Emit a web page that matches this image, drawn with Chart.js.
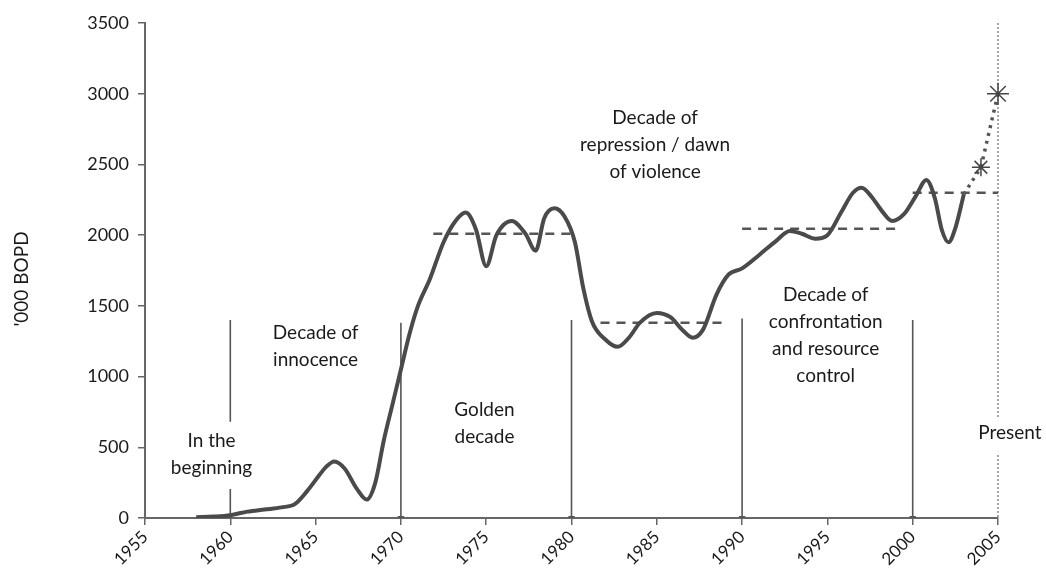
<!DOCTYPE html>
<html>
<head>
<meta charset="utf-8">
<script src="https://cdn.jsdelivr.net/npm/chart.js@4.4.1/dist/chart.umd.min.js"></script>
<style>
  html, body { margin: 0; padding: 0; background: #fff; }
  #wrap { width: 1046px; height: 582px; }
</style>
</head>
<body>
<div id="wrap"><canvas id="oilChart" width="1046" height="582"></canvas></div>
<script>
// Production curve ('000 barrels of oil per day)
const years = [1958, 1959, 1960, 1961, 1962, 1963, 1963.8, 1964.5, 1965.2, 1965.6, 1966.1, 1966.7, 1967.4, 1968, 1968.5, 1969, 1969.5,
  1970, 1970.5, 1971, 1971.7, 1972.5, 1973.2, 1973.8, 1974.4, 1975, 1975.6, 1976.5, 1977.3, 1977.9, 1978.4, 1979, 1979.6,
  1980.2, 1980.7, 1981.2, 1982, 1982.7, 1983.4, 1984, 1985, 1985.8, 1986.5, 1987.1, 1987.7, 1988.5, 1989.2,
  1990, 1991, 1992, 1992.8, 1993.5, 1994.3, 1995, 1995.8, 1996.5, 1997, 1997.6, 1998.2, 1998.8, 1999.5,
  2000.2, 2000.8, 2001.3, 2001.7, 2002.1, 2002.5, 2003]
const production = [5, 10, 20, 45, 60, 75, 100, 190, 300, 360, 400, 350, 210, 130, 250, 550, 800,
  1050, 1300, 1500, 1690, 1950, 2100, 2160, 2040, 1780, 2000, 2100, 2010, 1890, 2120, 2190, 2130,
  1950, 1620, 1390, 1260, 1210, 1280, 1380, 1450, 1420, 1330, 1275, 1330, 1580, 1720,
  1765, 1860, 1960, 2030, 2010, 1975, 2000, 2160, 2300, 2335, 2270, 2170, 2100, 2150,
  2280, 2390, 2260, 2040, 1950, 2050, 2290]

// Projection (dotted, starred)
const projYears = [2003, 2004, 2005]
const projValues = [2290, 2480, 3000]

// Decade averages (dashed)
const avgStart = [1971.9, 1981.7, 1990, 2000]
const avgEnd = [1980.2, 1989.1, 1999.1, 2005]
const avgLevel = [2010, 1380, 2045, 2300]

// Decade dividers
const dividerYears = [1960, 1970, 1980, 1990, 2000]
const dividerTop = [1400, 1380, 1400, 1410, 1400]

const presentYear = 2005
const yTicks = [0, 500, 1000, 1500, 2000, 2500, 3000, 3500]
const xTicks = [1955, 1960, 1965, 1970, 1975, 1980, 1985, 1990, 1995, 2000, 2005]

// Text notes: anchor year, value of first line
const notes = [
  { x: 1958.9, y: 545, lines: ["In the", "beginning"] },
  { x: 1965.0, y: 1308, lines: ["Decade of", "innocence"] },
  { x: 1974.9, y: 764, lines: ["Golden", "decade"] },
  { x: 1984.9, y: 2830, lines: ["Decade of", "repression / dawn", "of violence"] },
  { x: 1994.9, y: 1577, lines: ["Decade of", "confrontation", "and resource", "control"] },
  { x: 2005.7, y: 600, lines: ["Present"] },
]

const FONT = "Lato, 'Open Sans', sans-serif"
const INK = "#1a1a1a"
const LINE = "#4a4a4a"

const datasets = []

datasets.push({
  data: years.map((x, i) => ({ x, y: production[i] })),
  borderColor: LINE,
  borderWidth: 4,
  pointRadius: 0,
  cubicInterpolationMode: "monotone",
  order: 1,
})

datasets.push({
  data: projYears.map((x, i) => ({ x, y: projValues[i] })),
  borderColor: "#555",
  borderWidth: 3.5,
  borderDash: [3, 5],
  pointStyle: "star",
  pointRadius: [0, 9, 11],
  pointBorderColor: "#444",
  pointBorderWidth: 1.5,
  clip: false,
  order: 0,
})

avgStart.forEach((s, i) => {
  datasets.push({
    data: [{ x: s, y: avgLevel[i] }, { x: avgEnd[i], y: avgLevel[i] }],
    borderColor: "#555",
    borderWidth: 2.5,
    borderDash: [9, 7],
    pointRadius: 0,
    order: 2,
  })
})

dividerYears.forEach((yr, i) => {
  let pts
  if (i === 0) {
    // gap where the "In the beginning" text sits
    pts = [{ x: yr, y: dividerTop[i] }, { x: yr, y: 680 }, { x: yr, y: null }, { x: yr, y: 205 }, { x: yr, y: 0 }]
  } else {
    pts = [{ x: yr, y: dividerTop[i] }, { x: yr, y: 0 }]
  }
  datasets.push({
    data: pts,
    borderColor: "#555",
    borderWidth: 1.6,
    pointStyle: "triangle",
    rotation: 180,
    pointRadius: pts.map((p, k) => (i > 0 && k === pts.length - 1 ? 4 : 0)),
    pointBackgroundColor: "#555",
    pointBorderColor: "#555",
    pointBorderWidth: 0,
    spanGaps: false,
    order: 3,
  })
})

datasets.push({
  data: [{ x: presentYear, y: 3500 }, { x: presentYear, y: 700 }, { x: presentYear, y: null }, { x: presentYear, y: 445 }, { x: presentYear, y: 0 }],
  borderColor: "#8a8a8a",
  borderWidth: 1.5,
  borderDash: [2, 2],
  pointRadius: 0,
  spanGaps: false,
  clip: false,
  order: 4,
})

const notesPlugin = {
  id: "notes",
  afterDatasetsDraw(chart) {
    const { ctx, scales } = chart
    ctx.save()
    ctx.fillStyle = INK
    ctx.font = "19px " + FONT
    ctx.textAlign = "center"
    ctx.textBaseline = "middle"
    notes.forEach((n) => {
      const px = scales.x.getPixelForValue(n.x)
      const py = scales.y.getPixelForValue(n.y)
      n.lines.forEach((t, k) => ctx.fillText(t, px, py + k * 27))
    })
    // y axis title
    ctx.translate(22, 279)
    ctx.rotate(-Math.PI / 2)
    ctx.fillText("'000 BOPD", 0, 0)
    ctx.restore()
  },
}

new Chart(document.getElementById("oilChart"), {
  type: "line",
  data: { datasets },
  plugins: [notesPlugin],
  options: {
    responsive: false,
    animation: false,
    layout: { padding: { top: 23, right: 48, left: 0, bottom: 0 } },
    plugins: { legend: { display: false }, tooltip: { enabled: false } },
    scales: {
      x: {
        type: "linear",
        min: 1955,
        max: 2005,
        afterBuildTicks: (s) => { s.ticks = xTicks.map((v) => ({ value: v })) },
        afterFit: (s) => { s.height = 64 },
        grid: { drawOnChartArea: false, drawTicks: true, tickLength: 7, color: "#666", lineWidth: 1.5 },
        border: { color: "#666", width: 2 },
        ticks: {
          color: INK,
          font: { family: FONT, size: 17 },
          maxRotation: 45,
          minRotation: 45,
          padding: 2,
          callback: (v) => String(v),
        },
      },
      y: {
        min: 0,
        max: 3500,
        afterBuildTicks: (s) => { s.ticks = yTicks.map((v) => ({ value: v })) },
        afterFit: (s) => { s.width = 145 },
        grid: { drawOnChartArea: false, drawTicks: true, tickLength: 7, color: "#666", lineWidth: 1.5 },
        border: { color: "#666", width: 2 },
        ticks: {
          color: INK,
          font: { family: FONT, size: 18 },
          padding: 9,
          callback: (v) => String(v),
        },
      },
    },
  },
})
</script>
</body>
</html>
